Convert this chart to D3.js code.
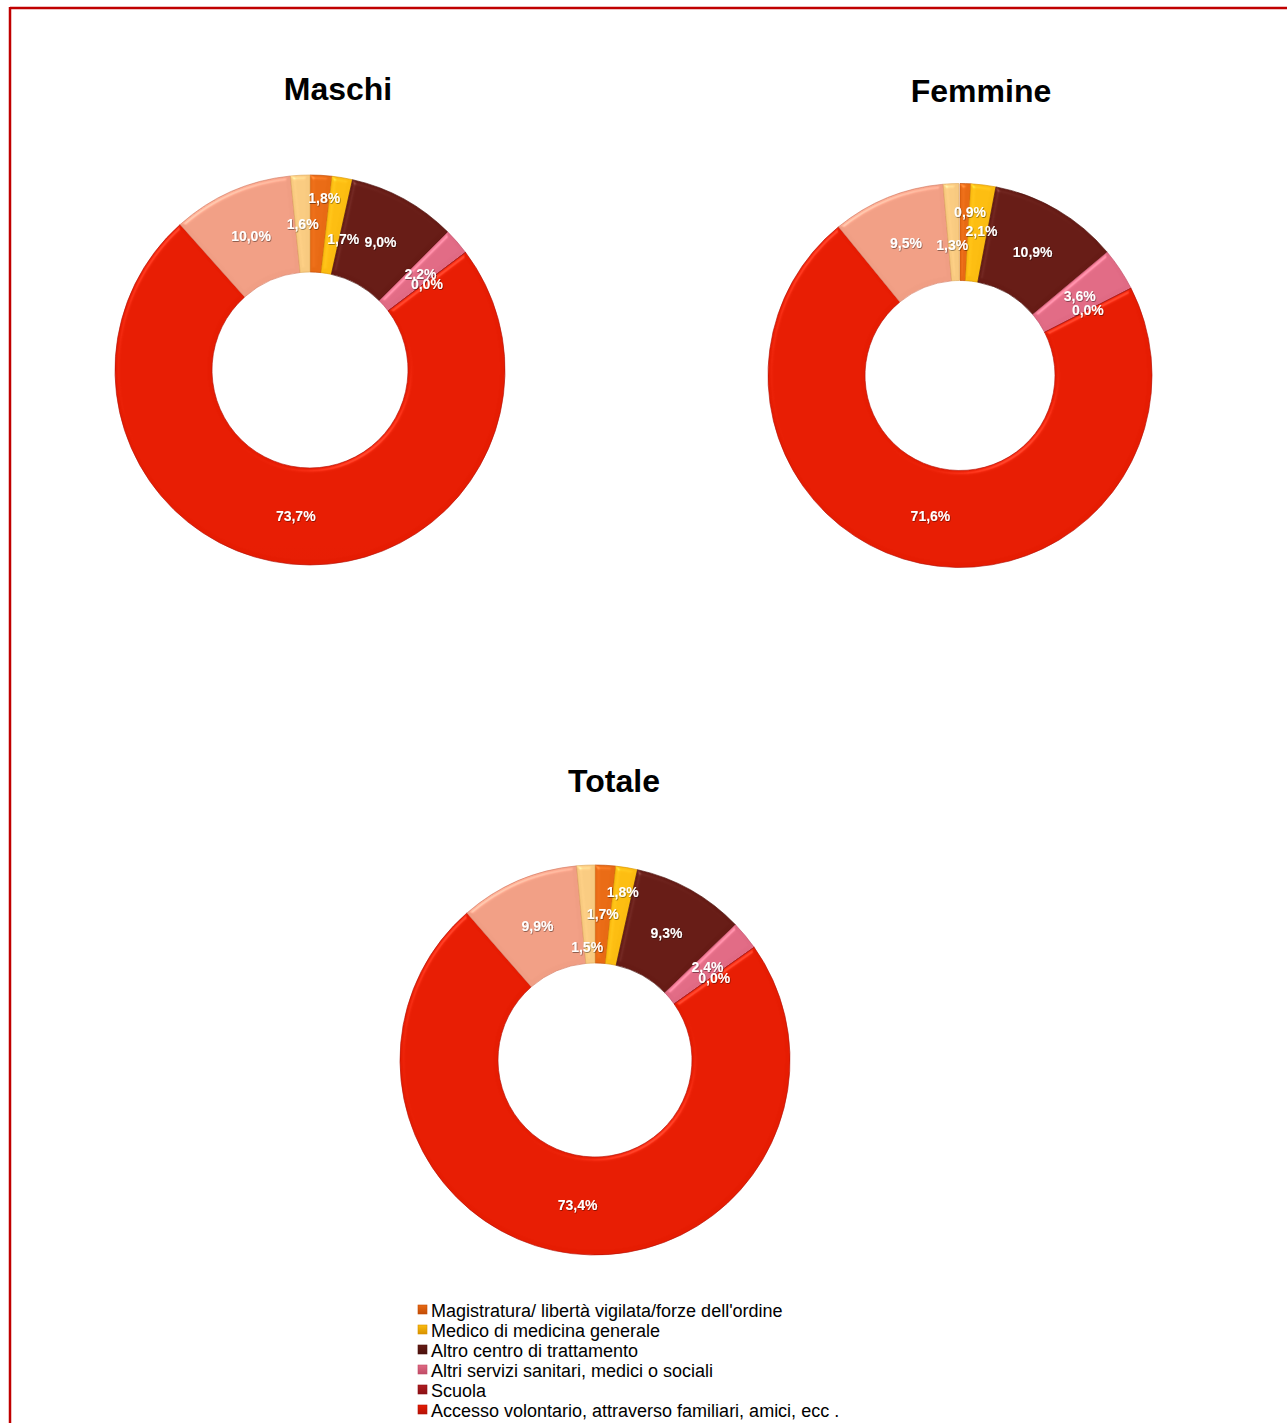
<!DOCTYPE html>
<html>
<head>
<meta charset="utf-8">
<script src="https://cdn.jsdelivr.net/npm/d3@7"></script>
<style>
  html, body { margin: 0; padding: 0; background: #fff; }
  svg { display: block; }
</style>
</head>
<body>
<svg id="chart" width="1287" height="1423"></svg>
<script>
// ---------------- DATA ----------------
const categories = [
  "Magistratura/ libertà vigilata/forze dell'ordine",
  "Medico di medicina generale",
  "Altro centro di trattamento",
  "Altri servizi sanitari, medici o sociali",
  "Scuola",
  "Accesso volontario, attraverso familiari, amici, ecc .",
  "Altro",
  "Non noto"
];
const chartTitles = ["Maschi", "Femmine", "Totale"];
const valuesMaschi  = [1.8, 1.7, 9.0, 2.2, 0.0, 73.7, 10.0, 1.6];
const valuesFemmine = [0.9, 2.1, 10.9, 3.6, 0.0, 71.6, 9.5, 1.3];
const valuesTotale  = [1.7, 1.8, 9.3, 2.4, 0.0, 73.4, 9.9, 1.5];
const seriesValues = [valuesMaschi, valuesFemmine, valuesTotale];

// ---------------- STYLE / LAYOUT ----------------
const colors      = ["#dc5808", "#f2a800", "#5a1611", "#d65c78", "#a3141a", "#da1a04", "#e8927a", "#f4c070"];
const colorsLight = ["#e86a14", "#fbbc10", "#661b15", "#e06a84", "#b01c20", "#e61c02", "#f09e84", "#f8ca80"];
const colorsDark  = ["#c24c06", "#d89200", "#4a110c", "#c04c66", "#8a1014", "#b41208", "#d68068", "#e0aa5c"];

const layout = [
  { cx: 310, cy: 370, r: 195, ir: 98, tx: 338, ty: 100 },
  { cx: 960, cy: 375.5, r: 192, ir: 95, tx: 981, ty: 102 },
  { cx: 595, cy: 1060, r: 195, ir: 97, tx: 614, ty: 792 }
];
// manual label nudges (like the original's overlap avoidance), indexed by category
const labelNudge = [
  { 0: [6, -26], 1: [9, 13], 4: [0, 2] },
  { 0: [6, -20], 1: [4, -2], 7: [-1, 13] },
  { 1: [4, -24], 4: [0, 2], 7: [-1, 33] }
];

const svg = d3.select("#chart");
const defs = svg.append("defs");

// bevel filter for the 3D look
const f = defs.append("filter").attr("id", "bevel")
  .attr("color-interpolation-filters", "sRGB")
  .attr("x", "-5%").attr("y", "-5%").attr("width", "110%").attr("height", "110%");
f.append("feGaussianBlur").attr("in", "SourceAlpha").attr("stdDeviation", 2).attr("result", "blur");
const spec = f.append("feSpecularLighting").attr("in", "blur").attr("surfaceScale", 3)
  .attr("specularConstant", 0.5).attr("specularExponent", 25).attr("lighting-color", "#ffffff").attr("result", "spec");
spec.append("feDistantLight").attr("azimuth", 235).attr("elevation", 35);
f.append("feComposite").attr("in", "spec").attr("in2", "SourceAlpha").attr("operator", "in").attr("result", "specOut");
f.append("feComposite").attr("in", "SourceGraphic").attr("in2", "specOut").attr("operator", "arithmetic")
  .attr("k1", 0).attr("k2", 1).attr("k3", 0.35).attr("k4", 0);

// text shadow filter
const ts = defs.append("filter").attr("id", "tshadow").attr("x", "-20%").attr("y", "-30%").attr("width", "140%").attr("height", "160%");
ts.append("feDropShadow").attr("dx", 0.6).attr("dy", 0.8).attr("stdDeviation", 0.7).attr("flood-color", "#000").attr("flood-opacity", 0.5);

// frame
svg.append("line").attr("x1", 10).attr("y1", 8).attr("x2", 1287).attr("y2", 8)
  .attr("stroke", "#c00000").attr("stroke-width", 2.5);
svg.append("line").attr("x1", 10).attr("y1", 7).attr("x2", 10).attr("y2", 1423)
  .attr("stroke", "#c00000").attr("stroke-width", 2.5);

const fmt = v => d3.format(".1f")(v).replace(".", ",") + "%";

seriesValues.forEach((vals, ci) => {
  const L = layout[ci];
  const data = categories.map((c, i) => ({ cat: c, idx: i, value: vals[i] }));
  const total = d3.sum(vals);
  const pie = d3.pie().value(d => d.value).sort(null).startAngle(0).endAngle(2 * Math.PI * total / 100);
  const arcs = pie(data);
  const arc = d3.arc().innerRadius(L.ir).outerRadius(L.r);
  const labelArc = d3.arc().innerRadius((L.ir + L.r) / 2).outerRadius((L.ir + L.r) / 2);

  categories.forEach((c, i) => {
    const g = defs.append("linearGradient").attr("id", `g${ci}_${i}`)
      .attr("gradientUnits", "userSpaceOnUse")
      .attr("x1", 0).attr("y1", L.cy - L.r).attr("x2", 0).attr("y2", L.cy + L.r);
    g.append("stop").attr("offset", "0%").attr("stop-color", colorsLight[i]);
    g.append("stop").attr("offset", "40%").attr("stop-color", colors[i]);
    g.append("stop").attr("offset", "100%").attr("stop-color", colorsDark[i]);
  });

  const g = svg.append("g").attr("transform", `translate(${L.cx},${L.cy})`);
  g.selectAll("path.slice").data(arcs).enter().append("path")
    .attr("class", "slice")
    .attr("d", arc)
    .attr("fill", d => `url(#g${ci}_${d.data.idx})`)
    .attr("stroke", d => colorsDark[d.data.idx])
    .attr("stroke-opacity", 0.8)
    .attr("stroke-width", 0.8)
    .attr("filter", "url(#bevel)");

  g.selectAll("text.lbl").data(arcs).enter().append("text")
    .attr("class", "lbl")
    .attr("transform", d => {
      const [x, y] = labelArc.centroid(d);
      const n = labelNudge[ci][d.data.idx] || [0, 0];
      return `translate(${x + n[0]},${y + n[1]})`;
    })
    .attr("text-anchor", "middle")
    .attr("dy", "0.36em")
    .attr("font-family", "Arial, 'Liberation Sans', sans-serif")
    .attr("font-weight", "bold")
    .attr("font-size", 14)
    .attr("fill", "#ffffff")
    .attr("filter", "url(#tshadow)")
    .text(d => fmt(d.data.value));

  svg.append("text")
    .attr("x", L.tx).attr("y", L.ty)
    .attr("text-anchor", "middle")
    .attr("font-family", "Arial, 'Liberation Sans', sans-serif")
    .attr("font-weight", "bold")
    .attr("font-size", 32)
    .attr("fill", "#000")
    .text(chartTitles[ci]);
});

// legend
const legendX = 418, legendY0 = 1310, legendStep = 20;
const legendItems = categories.map((c, i) => ({ c, i })).filter(d => legendY0 + d.i * legendStep < 1420);
categories.forEach((c, i) => {
  const g = defs.append("linearGradient").attr("id", `lg${i}`).attr("x1", 0).attr("y1", 0).attr("x2", 0).attr("y2", 1);
  g.append("stop").attr("offset", "0%").attr("stop-color", colorsLight[i]);
  g.append("stop").attr("offset", "100%").attr("stop-color", colorsDark[i]);
});
const lg = svg.append("g");
const rows = lg.selectAll("g").data(legendItems).enter().append("g")
  .attr("transform", d => `translate(${legendX},${legendY0 + d.i * legendStep})`);
rows.append("rect").attr("x", 0).attr("y", -5).attr("width", 9).attr("height", 9)
  .attr("fill", d => `url(#lg${d.i})`).attr("stroke", d => colorsDark[d.i]).attr("stroke-width", 0.6);
rows.append("text").attr("x", 13).attr("y", 6.5)
  .attr("font-family", "Arial, 'Liberation Sans', sans-serif")
  .attr("font-size", 18)
  .attr("fill", "#000")
  .text(d => d.c);
</script>
</body>
</html>
